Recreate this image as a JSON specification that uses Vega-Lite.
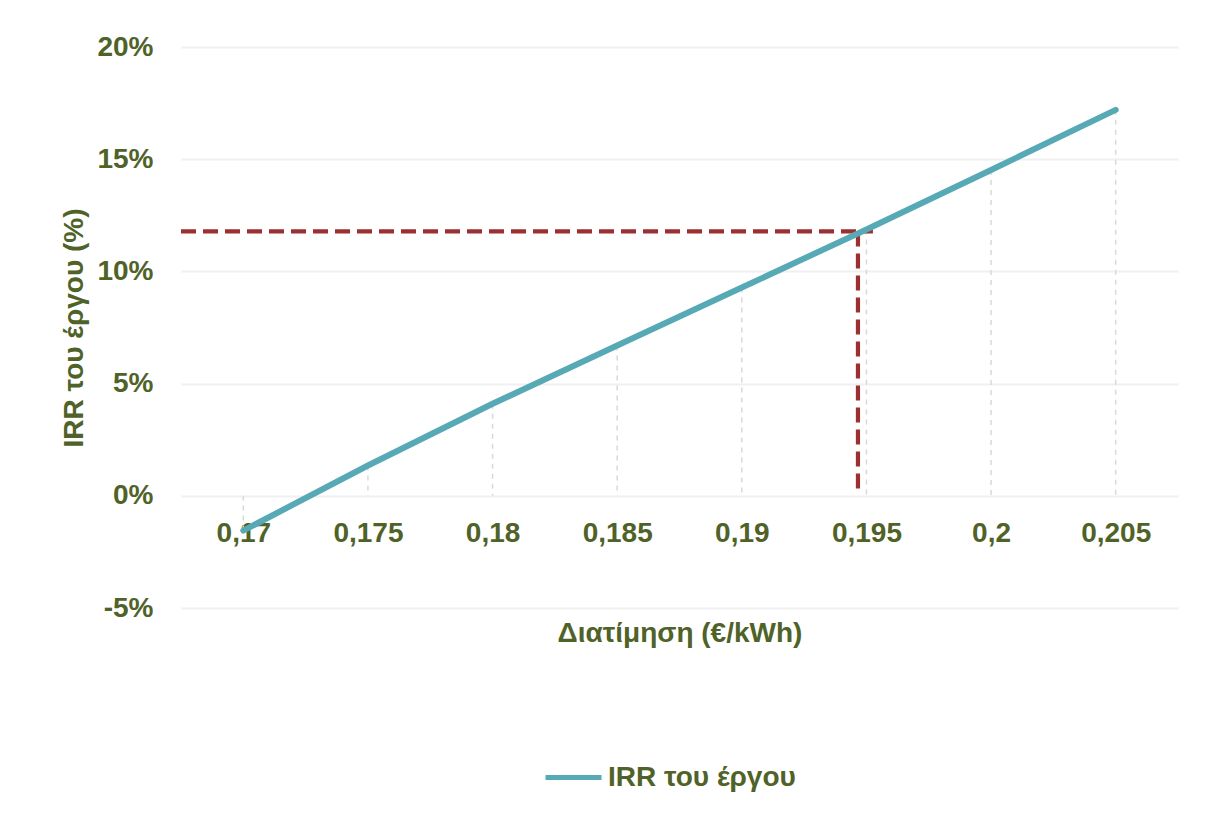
{
  "$schema": "https://vega.github.io/schema/vega-lite/v6.json",
  "width": 997,
  "height": 561,
  "autosize": {"type": "none"},
  "padding": {"left": 181, "top": 47, "right": 39, "bottom": 209},
  "background": "white",
  "config": {
    "view": {"stroke": null},
    "font": "Liberation Sans"
  },
  "datasets": {
    "irr": [
      {"price": 0.17, "irr": -1.55},
      {"price": 0.175, "irr": 1.35},
      {"price": 0.18, "irr": 4.1},
      {"price": 0.185, "irr": 6.7},
      {"price": 0.19, "irr": 9.28},
      {"price": 0.195, "irr": 11.87},
      {"price": 0.2, "irr": 14.52},
      {"price": 0.205, "irr": 17.2}
    ],
    "refs": [
      {"x1": 0.1675, "x2": 0.19526, "y1": 11.78, "y2": 11.78},
      {"x1": 0.19466, "x2": 0.19466, "y1": 11.78, "y2": 0.3}
    ]
  },
  "layer": [
    {
      "data": {"name": "irr"},
      "mark": {"type": "rule", "stroke": "#d9d9d9", "strokeWidth": 1.5, "strokeDash": [5, 5]},
      "encoding": {
        "x": {"field": "price", "type": "quantitative"},
        "y": {"field": "irr", "type": "quantitative"},
        "y2": {"datum": 0}
      }
    },
    {
      "data": {"name": "refs"},
      "mark": {"type": "rule", "stroke": "#9c2f31", "strokeWidth": 4.2, "strokeDash": [15, 7]},
      "encoding": {
        "x": {"field": "x1", "type": "quantitative"},
        "x2": {"field": "x2"},
        "y": {"field": "y1", "type": "quantitative"},
        "y2": {"field": "y2"}
      }
    },
    {
      "data": {"name": "irr"},
      "mark": {"type": "line", "strokeWidth": 6, "strokeCap": "round", "strokeJoin": "round"},
      "encoding": {
        "x": {
          "field": "price",
          "type": "quantitative",
          "scale": {"domain": [0.1675, 0.2075], "nice": false, "zero": false},
          "axis": {
            "values": [0.17, 0.175, 0.18, 0.185, 0.19, 0.195, 0.2, 0.205],
            "format": ".3~f",
            "labelExpr": "replace(datum.label, '.', ',')",
            "offset": -112,
            "domain": false,
            "ticks": false,
            "grid": false,
            "labelPadding": 23,
            "labelFont": "Liberation Sans",
            "labelFontSize": 28,
            "labelFontWeight": "bold",
            "labelColor": "#4f6228",
            "labelFlush": false,
            "title": "Διατίμηση (€/kWh)",
            "titleFont": "Liberation Sans",
            "titleFontSize": 28,
            "titleFontWeight": "bold",
            "titleColor": "#4f6228",
            "titlePadding": 72
          }
        },
        "y": {
          "field": "irr",
          "type": "quantitative",
          "scale": {"domain": [-5, 20], "nice": false, "zero": false},
          "axis": {
            "values": [-5, 0, 5, 10, 15, 20],
            "labelExpr": "datum.value + '%'",
            "domain": false,
            "ticks": false,
            "grid": true,
            "gridColor": "#f0f0f0",
            "gridWidth": 2,
            "labelPadding": 28,
            "labelFont": "Liberation Sans",
            "labelFontSize": 28,
            "labelFontWeight": "bold",
            "labelColor": "#4f6228",
            "labelFlush": false,
            "title": "IRR του έργου (%)",
            "titleFont": "Liberation Sans",
            "titleFontSize": 28,
            "titleFontWeight": "bold",
            "titleColor": "#4f6228",
            "titlePadding": 8
          }
        },
        "color": {
          "datum": "IRR του έργου",
          "type": "nominal",
          "scale": {"range": ["#57a9b6"]},
          "legend": {
            "title": null,
            "orient": "none",
            "legendX": 362,
            "legendY": 700,
            "direction": "horizontal",
            "symbolType": "stroke",
            "symbolSize": 3136,
            "symbolStrokeWidth": 5,
            "labelFont": "Liberation Sans",
            "labelFontSize": 28,
            "labelFontWeight": "bold",
            "labelColor": "#4f6228",
            "labelOffset": 4,
            "labelLimit": 400
          }
        }
      }
    }
  ]
}
